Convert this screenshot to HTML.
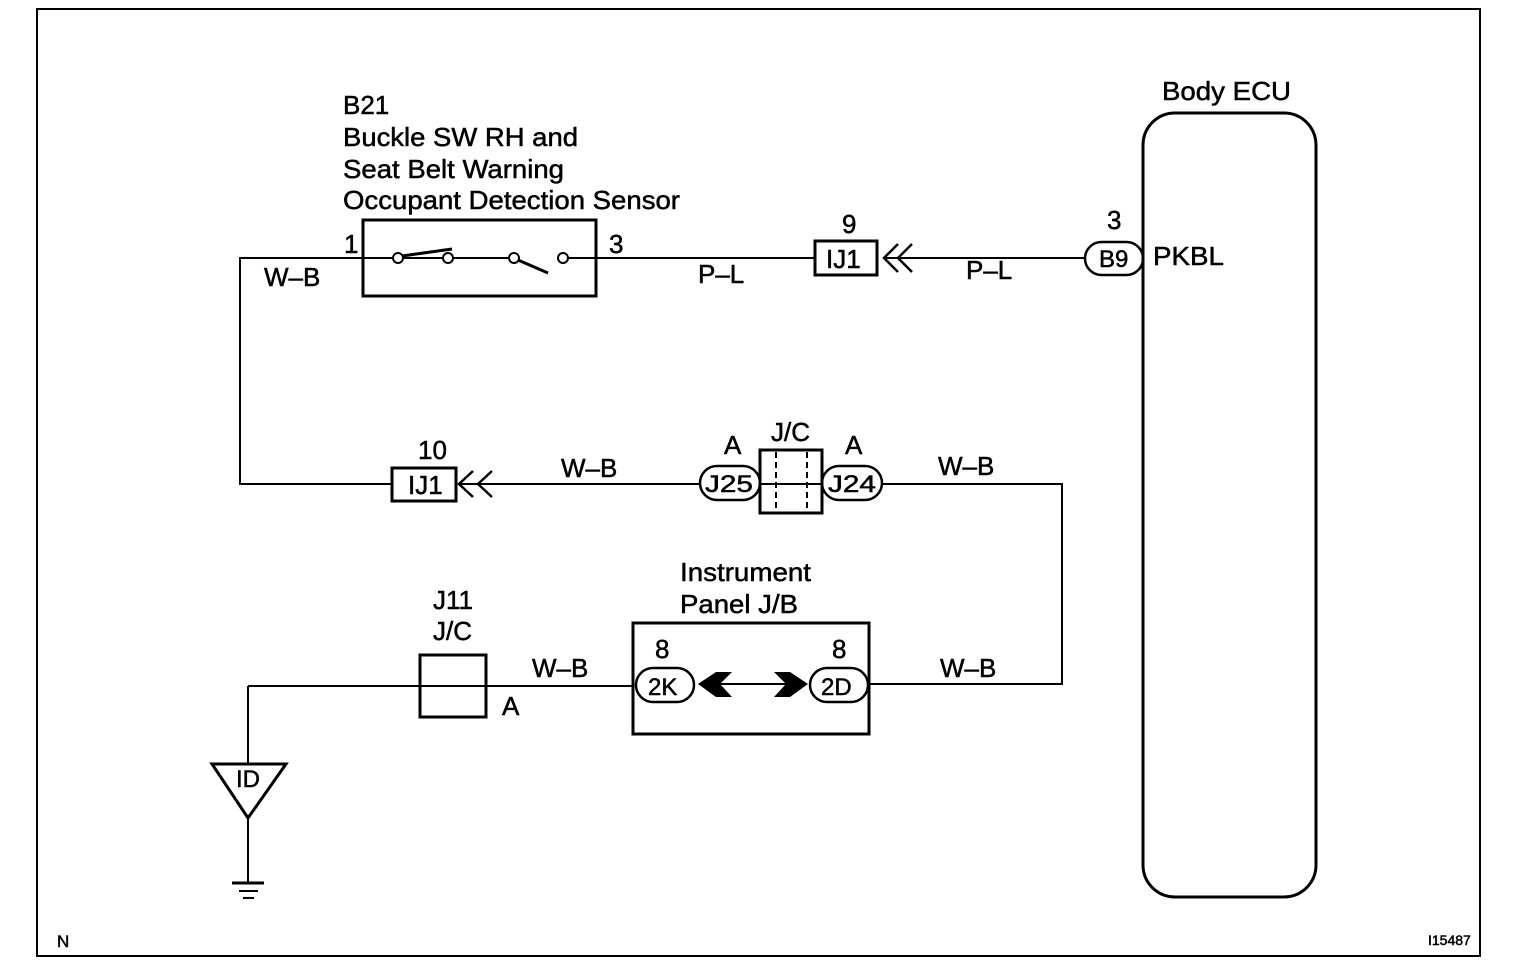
<!DOCTYPE html>
<html><head><meta charset="utf-8"><style>
html,body{margin:0;padding:0;background:#fff}
svg{display:block}
text{font-family:"Liberation Sans",Arial,sans-serif;fill:#000;stroke:#000;stroke-width:0.5}
</style></head><body>
<svg width="1520" height="972" viewBox="0 0 1520 972" xmlns="http://www.w3.org/2000/svg">
<rect x="37" y="9" width="1443" height="947" fill="none" stroke="#000" stroke-width="2"/>
<g stroke="#000" fill="none" stroke-width="2">
<polyline points="392,484 240,484 240,258 363,258"/>
<rect x="363" y="220" width="233" height="76" stroke-width="3"/>
<line x1="363" y1="258" x2="393" y2="258"/>
<line x1="403" y1="258" x2="443" y2="258"/>
<line x1="453" y1="258" x2="509" y2="258"/>
<line x1="568" y1="258" x2="596" y2="258"/>
<circle cx="398" cy="258" r="5"/><circle cx="448" cy="258" r="5"/>
<circle cx="514" cy="258" r="5"/><circle cx="563" cy="258" r="5"/>
<line x1="402" y1="256" x2="452" y2="249" stroke-width="3"/>
<line x1="518" y1="260" x2="548" y2="273" stroke-width="3"/>
<line x1="596" y1="258" x2="815" y2="258"/>
<rect x="815" y="241" width="62" height="34" stroke-width="3"/>
<polyline points="898,244 884,258 898,272" stroke-width="2.5"/>
<polyline points="912,244 898,258 912,272" stroke-width="2.5"/>
<line x1="884" y1="258" x2="1085" y2="258"/>
<rect x="1085" y="242" width="58" height="33" rx="16.5" stroke-width="2.5"/>
<rect x="1143" y="113" width="173" height="784" rx="32" stroke-width="3"/>
<rect x="392" y="468" width="64" height="33" stroke-width="3"/>
<polyline points="473,471 459,484 473,497" stroke-width="2.5"/>
<polyline points="492,471 478,484 492,497" stroke-width="2.5"/>
<line x1="459" y1="484" x2="700" y2="484"/>
<rect x="700" y="466" width="60" height="34" rx="17" stroke-width="2.5"/>
<rect x="760" y="450" width="62" height="63" stroke-width="3"/>
<line x1="760" y1="484" x2="822" y2="484"/>
<line x1="776" y1="452" x2="776" y2="511" stroke-dasharray="6,4"/>
<line x1="807" y1="452" x2="807" y2="511" stroke-dasharray="6,4"/>
<rect x="822" y="466" width="60" height="34" rx="17" stroke-width="2.5"/>
<polyline points="882,484 1062,484 1062,684 868,684"/>
<rect x="633" y="623" width="236" height="111" stroke-width="3"/>
<rect x="636" y="668" width="58" height="34" rx="17" stroke-width="2.5"/>
<rect x="810" y="668" width="58" height="34" rx="17" stroke-width="2.5"/>
<line x1="720" y1="684" x2="790" y2="684"/>
<line x1="248" y1="686" x2="633" y2="686"/>
<rect x="420" y="655" width="66" height="62" stroke-width="3"/>
<line x1="248" y1="686" x2="248" y2="764"/>
<polygon points="212,764 286,764 248,818" stroke-width="3"/>
<line x1="248" y1="818" x2="248" y2="882"/>
<line x1="232" y1="883" x2="264" y2="883" stroke-width="3"/>
<line x1="239" y1="891" x2="258" y2="891"/>
<line x1="243" y1="898" x2="254" y2="898"/>
</g>
<polygon points="698,684 716,672 732,672 720,684 732,697 716,697" fill="#000"/>
<polygon points="808,684 790,672 774,672 786,684 774,697 790,697" fill="#000"/>
<g font-size="26">
<text x="343" y="114">B21</text>
<text x="343" y="146" textLength="235" lengthAdjust="spacingAndGlyphs">Buckle SW RH and</text>
<text x="343" y="178" textLength="221" lengthAdjust="spacingAndGlyphs">Seat Belt Warning</text>
<text x="343" y="209" textLength="337" lengthAdjust="spacingAndGlyphs">Occupant Detection Sensor</text>
<text x="1162" y="100" textLength="129" lengthAdjust="spacingAndGlyphs">Body ECU</text>
<text x="344" y="253">1</text>
<text x="609" y="253">3</text>
<text x="264" y="286">W–B</text>
<text x="698" y="283">P–L</text>
<text x="842" y="233">9</text>
<text x="966" y="279">P–L</text>
<text x="1107" y="229">3</text>
<text x="1153" y="265" textLength="71" lengthAdjust="spacingAndGlyphs">PKBL</text>
<text x="418" y="459">10</text>
<text x="561" y="477">W–B</text>
<text x="724" y="454">A</text>
<text x="771" y="441">J/C</text>
<text x="845" y="454">A</text>
<text x="938" y="475">W–B</text>
<text x="680" y="581" textLength="131" lengthAdjust="spacingAndGlyphs">Instrument</text>
<text x="680" y="613" textLength="118" lengthAdjust="spacingAndGlyphs">Panel J/B</text>
<text x="655" y="658">8</text>
<text x="832" y="658">8</text>
<text x="433" y="609">J11</text>
<text x="433" y="640">J/C</text>
<text x="532" y="677">W–B</text>
<text x="502" y="715">A</text>
<text x="940" y="677">W–B</text>
<text x="826" y="268">IJ1</text>
<text x="408" y="494">IJ1</text>
<text x="1099" y="267" font-size="24">B9</text>
<text x="705" y="492" font-size="24" textLength="48" lengthAdjust="spacingAndGlyphs">J25</text>
<text x="828" y="492" font-size="24" textLength="48" lengthAdjust="spacingAndGlyphs">J24</text>
<text x="648" y="695" font-size="24">2K</text>
<text x="821" y="695" font-size="24">2D</text>
<text x="236" y="787" font-size="24">ID</text>
<text x="57" y="947" font-size="17">N</text>
<text x="1428" y="945" font-size="14">I15487</text>
</g>
</svg>
</body></html>
